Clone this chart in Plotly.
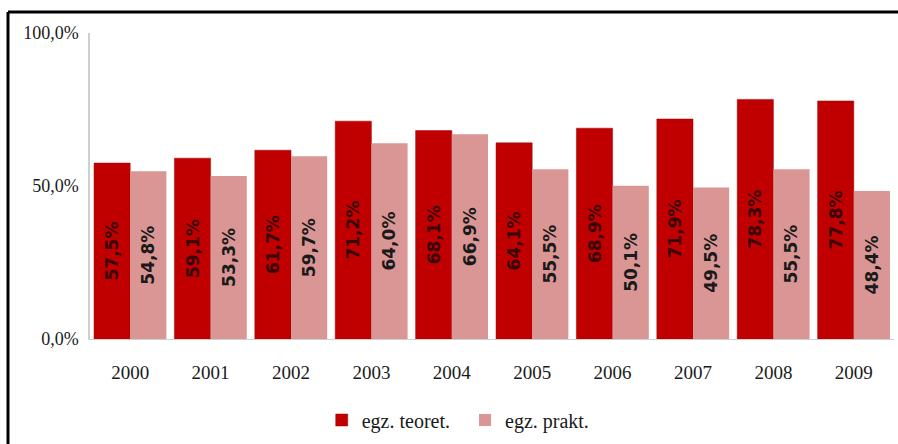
import plotly.graph_objects as go

years = ["2000", "2001", "2002", "2003", "2004", "2005", "2006", "2007", "2008", "2009"]
teoret = [57.5, 59.1, 61.7, 71.2, 68.1, 64.1, 68.9, 71.9, 78.3, 77.8]
prakt = [54.8, 53.3, 59.7, 64.0, 66.9, 55.5, 50.1, 49.5, 55.5, 48.4]
series_names = ["egz. teoret.", "egz. prakt."]
y_ticks = [0, 50, 100]

W, H = 898, 444
ML, MR, MT, MB = 90, 4, 33, 105
PW, PH = W - ML - MR, H - MT - MB

def fmt(v):
    return f"{v:.1f}".replace(".", ",") + "%"

fig = go.Figure()
fig.add_trace(go.Bar(
    x=years, y=teoret, name=series_names[0] + "\u00a0\u00a0",
    marker=dict(color="#C00000", line=dict(color="#A00000", width=0.5)),
    text=[fmt(v) for v in teoret], textposition="inside", insidetextanchor="middle",
    textangle=-90, textfont=dict(family="DejaVu Sans", size=17, color="#3a0505", weight="bold"),
))
fig.add_trace(go.Bar(
    x=years, y=prakt, name=series_names[1],
    marker=dict(color="#D99694", line=dict(color="#D99694", width=0)),
    text=[fmt(v) for v in prakt], textposition="inside", insidetextanchor="middle",
    textangle=-90, textfont=dict(family="DejaVu Sans", size=17, color="#1a1a1a", weight="bold"),
))

# frame (left and top edges visible)
x_left = (8 - ML) / PW
y_top = 1 + (MT - 12) / PH
y_bot = -(MB + 10) / PH
x_right = 1 + (MR + 10) / PW
fig.add_shape(type="line", xref="paper", yref="paper", x0=x_left, x1=x_left, y0=y_top, y1=y_bot,
              line=dict(color="black", width=3))
fig.add_shape(type="line", xref="paper", yref="paper", x0=x_left, x1=x_right, y0=y_top, y1=y_top,
              line=dict(color="black", width=3))

fig.update_layout(
    width=W, height=H,
    margin=dict(l=ML, r=MR, t=MT, b=MB),
    paper_bgcolor="white", plot_bgcolor="white",
    barmode="group", bargap=0.1, bargroupgap=0,
    separators=",.",
    font=dict(family="Liberation Serif", color="#1a1a1a"),
    showlegend=True,
    legend=dict(orientation="h", x=0.458, xanchor="center", y=-(420 - 339) / PH, yanchor="middle",
                font=dict(family="Liberation Serif", size=20, color="#1a1a1a"),
                itemwidth=30, traceorder="normal"),
    xaxis=dict(showgrid=False, showline=True, linecolor="#cfcfcf", linewidth=1,
               ticks="outside", ticklen=16, tickcolor="rgba(0,0,0,0)",
               tickfont=dict(family="Liberation Serif", size=19, color="#1a1a1a")),
    yaxis=dict(range=[0, 100], tickvals=y_ticks, ticktext=[fmt(v) for v in y_ticks],
               showgrid=False, showline=True, linecolor="#cfcfcf", linewidth=1.5,
               zeroline=False, ticks="", ticklabelstandoff=6,
               tickfont=dict(family="Liberation Serif", size=18, color="#1a1a1a")),
)

fig.write_html("out.html")
